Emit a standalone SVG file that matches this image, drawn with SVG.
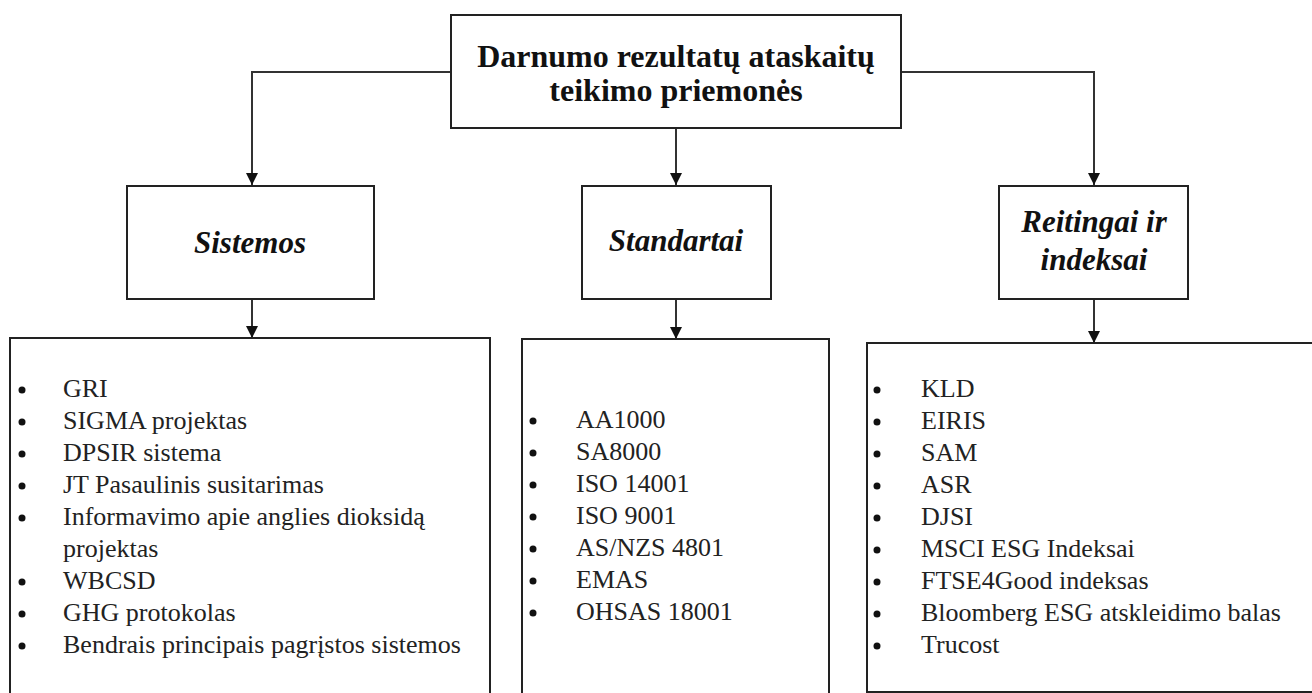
<svg xmlns="http://www.w3.org/2000/svg" width="1312" height="693" viewBox="0 0 1312 693">
<style>
.box{fill:#fff;stroke:#222;stroke-width:2}
.conn{fill:none;stroke:#333;stroke-width:2}
.title{font-weight:bold;font-size:32px;fill:#111;text-anchor:middle}
.head{font-weight:bold;font-style:italic;font-size:31px;fill:#111;text-anchor:middle}
.item{font-size:26px;fill:#222}
.bul{fill:#111}
</style>
<defs>
<marker id="arr" viewBox="0 0 10 10" refX="10" refY="5" markerWidth="6" markerHeight="6" markerUnits="strokeWidth" orient="auto">
<path d="M0,0 L10,5 L0,10 Z" fill="#111"/>
</marker>
</defs>
<rect width="1312" height="693" fill="#fff"/>
<g id="connectors">
<path class="conn" d="M451,72 H252 V185" marker-end="url(#arr)"/>
<path class="conn" d="M901,72 H1094 V185" marker-end="url(#arr)"/>
<path class="conn" d="M676,128 V185" marker-end="url(#arr)"/>
<path class="conn" d="M252,299 V338" marker-end="url(#arr)"/>
<path class="conn" d="M676,299 V339" marker-end="url(#arr)"/>
<path class="conn" d="M1094,299 V343" marker-end="url(#arr)"/>
</g>
<g font-family="'Liberation Serif', 'Times New Roman', serif">
<g id="root">
<rect class="box" x="451" y="15" width="450" height="113"/>
<text class="title" x="676" y="67">Darnumo rezultatų ataskaitų</text>
<text class="title" x="676" y="101">teikimo priemonės</text>
</g>
<g id="sistemos">
<rect class="box" x="127" y="186" width="247" height="113"/>
<text class="head" x="250" y="253">Sistemos</text>
</g>
<g id="standartai">
<rect class="box" x="582" y="186" width="189" height="113"/>
<text class="head" x="676" y="251">Standartai</text>
</g>
<g id="reitingai">
<rect class="box" x="999" y="186" width="189" height="113"/>
<text class="head" x="1094" y="232">Reitingai ir</text>
<text class="head" x="1094" y="270">indeksai</text>
</g>
<g id="sistemos-list">
<rect class="box" x="10" y="338" width="480" height="400"/>
<g class="bul">
<circle cx="22" cy="390" r="3.5"/><circle cx="22" cy="422" r="3.5"/><circle cx="22" cy="454" r="3.5"/><circle cx="22" cy="486" r="3.5"/><circle cx="22" cy="518" r="3.5"/><circle cx="22" cy="582" r="3.5"/><circle cx="22" cy="614" r="3.5"/><circle cx="22" cy="646" r="3.5"/>
</g>
<text class="item" x="63" y="397">GRI</text>
<text class="item" x="63" y="429">SIGMA projektas</text>
<text class="item" x="63" y="461">DPSIR sistema</text>
<text class="item" x="63" y="493">JT Pasaulinis susitarimas</text>
<text class="item" x="63" y="525">Informavimo apie anglies dioksidą</text>
<text class="item" x="63" y="557">projektas</text>
<text class="item" x="63" y="589">WBCSD</text>
<text class="item" x="63" y="621">GHG protokolas</text>
<text class="item" x="63" y="653">Bendrais principais pagrįstos sistemos</text>
</g>
<g id="standartai-list">
<rect class="box" x="522" y="339" width="307" height="400"/>
<g class="bul">
<circle cx="533" cy="421" r="3.5"/><circle cx="533" cy="453" r="3.5"/><circle cx="533" cy="485" r="3.5"/><circle cx="533" cy="517" r="3.5"/><circle cx="533" cy="549" r="3.5"/><circle cx="533" cy="581" r="3.5"/><circle cx="533" cy="613" r="3.5"/>
</g>
<text class="item" x="576" y="428">AA1000</text>
<text class="item" x="576" y="460">SA8000</text>
<text class="item" x="576" y="492">ISO 14001</text>
<text class="item" x="576" y="524">ISO 9001</text>
<text class="item" x="576" y="556">AS/NZS 4801</text>
<text class="item" x="576" y="588">EMAS</text>
<text class="item" x="576" y="620">OHSAS 18001</text>
</g>
<g id="reitingai-list">
<rect class="box" x="867" y="343" width="460" height="349"/>
<g class="bul">
<circle cx="877" cy="390" r="3.5"/><circle cx="877" cy="422" r="3.5"/><circle cx="877" cy="454" r="3.5"/><circle cx="877" cy="486" r="3.5"/><circle cx="877" cy="518" r="3.5"/><circle cx="877" cy="550" r="3.5"/><circle cx="877" cy="582" r="3.5"/><circle cx="877" cy="614" r="3.5"/><circle cx="877" cy="646" r="3.5"/>
</g>
<text class="item" x="921" y="397">KLD</text>
<text class="item" x="921" y="429">EIRIS</text>
<text class="item" x="921" y="461">SAM</text>
<text class="item" x="921" y="493">ASR</text>
<text class="item" x="921" y="525">DJSI</text>
<text class="item" x="921" y="557">MSCI ESG Indeksai</text>
<text class="item" x="921" y="589">FTSE4Good indeksas</text>
<text class="item" x="921" y="621">Bloomberg ESG atskleidimo balas</text>
<text class="item" x="921" y="653">Trucost</text>
</g>
</g>
</svg>
